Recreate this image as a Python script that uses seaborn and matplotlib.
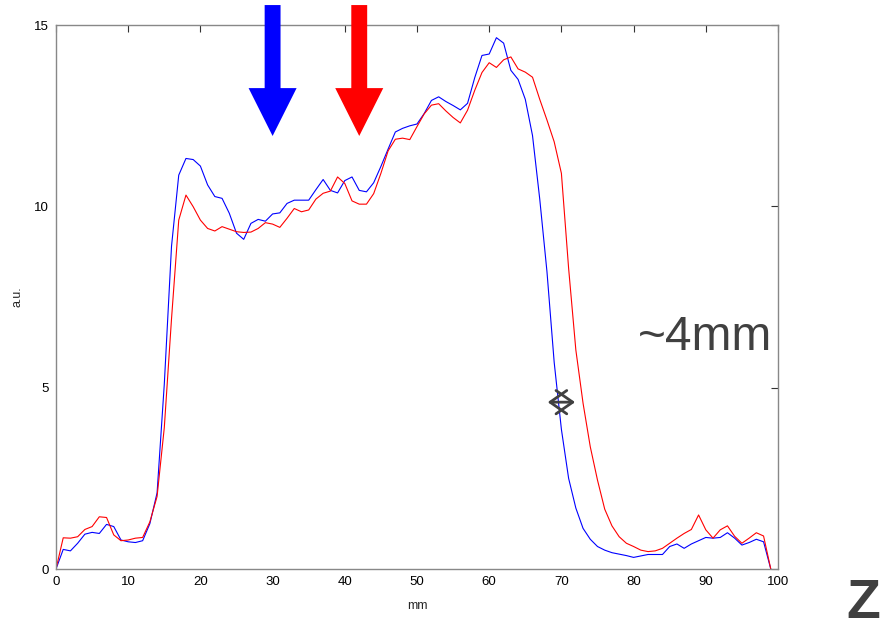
import numpy as np
import pandas as pd
import matplotlib
matplotlib.use("Agg")
import matplotlib.pyplot as plt
from matplotlib.patches import FancyArrow
import seaborn as sns

# Depth positions (mm) and the two measured profiles (a.u.)
depth_mm = list(range(100))

profile_blue = [
    0.00, 0.54, 0.50, 0.71, 0.96, 1.01, 0.98, 1.23, 1.17, 0.80,
    0.75, 0.73, 0.78, 1.25, 2.10, 5.10, 8.90, 10.86, 11.32, 11.29,
    11.11, 10.59, 10.27, 10.22, 9.81, 9.26, 9.09, 9.53, 9.64, 9.59,
    9.79, 9.82, 10.08, 10.17, 10.17, 10.17, 10.46, 10.74, 10.44, 10.37,
    10.71, 10.81, 10.44, 10.40, 10.65, 11.10, 11.58, 12.05, 12.15, 12.22,
    12.27, 12.56, 12.92, 13.02, 12.89, 12.78, 12.66, 12.84, 13.55, 14.16,
    14.20, 14.65, 14.50, 13.75, 13.50, 12.95, 11.95, 10.20, 8.20, 5.70,
    3.85, 2.50, 1.68, 1.12, 0.82, 0.62, 0.52, 0.45, 0.41, 0.37,
    0.32, 0.36, 0.40, 0.40, 0.40, 0.62, 0.69, 0.57, 0.69, 0.78,
    0.87, 0.85, 0.87, 1.00, 0.85, 0.66, 0.73, 0.82, 0.75, 0.00,
]

profile_red = [
    0.00, 0.86, 0.85, 0.89, 1.09, 1.17, 1.44, 1.42, 0.94, 0.78,
    0.80, 0.85, 0.87, 1.30, 2.00, 3.90, 6.90, 9.62, 10.31, 9.99,
    9.62, 9.39, 9.32, 9.44, 9.37, 9.30, 9.28, 9.29, 9.39, 9.55,
    9.51, 9.42, 9.67, 9.94, 9.85, 9.90, 10.20, 10.36, 10.42, 10.81,
    10.63, 10.15, 10.06, 10.06, 10.35, 10.91, 11.53, 11.85, 11.88, 11.84,
    12.20, 12.55, 12.79, 12.83, 12.63, 12.45, 12.30, 12.65, 13.20, 13.69,
    13.96, 13.83, 14.04, 14.12, 13.79, 13.70, 13.56, 12.95, 12.38, 11.78,
    10.91, 8.29, 6.04, 4.57, 3.37, 2.45, 1.65, 1.19, 0.89, 0.71,
    0.62, 0.52, 0.48, 0.50, 0.57, 0.71, 0.85, 0.98, 1.09, 1.49,
    1.08, 0.85, 1.08, 1.19, 0.90, 0.71, 0.85, 1.00, 0.91, 0.00,
]

x_ticks = [0, 10, 20, 30, 40, 50, 60, 70, 80, 90, 100]
y_ticks = [0, 5, 10, 15]

# Markers: arrows at the two probe depths and the shift between the edges
blue_arrow_x = 30
red_arrow_x = 42
shift_y = 4.6
shift_from, shift_to = 68.1, 71.9
shift_label = "~4mm"
axis_label = "Z"

df = pd.DataFrame({
    "mm": depth_mm * 2,
    "value": profile_blue + profile_red,
    "series": ["blue"] * len(depth_mm) + ["red"] * len(depth_mm),
})

sns.set_theme(style="white")
plt.rcParams["font.family"] = ["Liberation Sans", "DejaVu Sans"]

fig = plt.figure(figsize=(8.81, 6.31), dpi=100)
ax = fig.add_axes([56 / 881, 62 / 631, 722 / 881, 544 / 631])

sns.lineplot(data=df, x="mm", y="value", hue="series",
             palette={"blue": "#0000ff", "red": "#ff0000"},
             linewidth=0.8, legend=False, ax=ax, errorbar=None)

ax.set_xlim(0, 100)
ax.set_ylim(0, 15)
ax.set_xticks(x_ticks)
ax.set_yticks(y_ticks)
ax.set_xlabel("mm", fontsize=9, labelpad=9)
ax.set_ylabel("a.u.", fontsize=9, labelpad=8)
ax.tick_params(direction="in", length=5, width=0.8, color="#333333",
               labelsize=9.5, top=True, right=True, labelcolor="black", pad=5)
for side in ax.spines.values():
    side.set_visible(True)
    side.set_color("#888888")
    side.set_linewidth(1.0)

# Thick arrows pointing down into the profiles
for xa, col in [(blue_arrow_x, "#0000ff"), (red_arrow_x, "#ff0000")]:
    arr = FancyArrow(xa, 15.55, 0, -3.61, width=2.2, head_width=6.65,
                     head_length=1.32, length_includes_head=True,
                     color=col, lw=0, clip_on=False, zorder=5)
    ax.add_patch(arr)

# Double-headed marker showing the edge shift
ax.annotate("", xy=(shift_from, shift_y), xytext=(shift_to, shift_y),
            arrowprops=dict(arrowstyle="<->,head_length=1.0,head_width=0.7",
                            color="#404040", lw=2.0, shrinkA=0, shrinkB=0),
            zorder=6)

ax.text(80.6, 6.04, shift_label, fontsize=34.5, color="#404040",
        ha="left", va="baseline")
fig.text(846 / 881, 0.5 / 631, axis_label, fontsize=40, fontweight="bold",
         color="#404040", ha="left", va="bottom")

fig.savefig("out.png", dpi=100)
